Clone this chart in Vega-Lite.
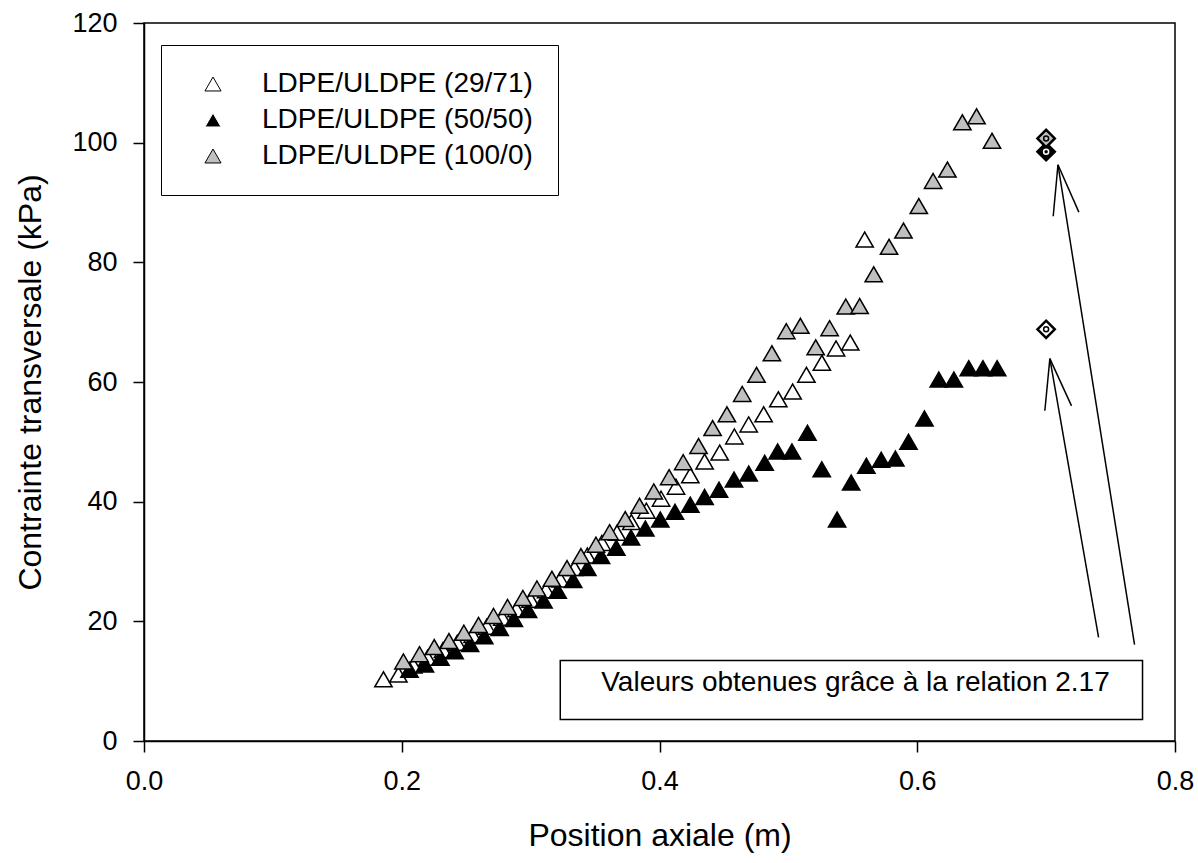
{
  "$schema": "https://vega.github.io/schema/vega-lite/v6.json",
  "width": 1031,
  "height": 718,
  "autosize": {"type": "none"},
  "padding": {"left": 144, "top": 23, "right": 23, "bottom": 122},
  "background": "white",
  "config": {
    "font": "Liberation Sans",
    "view": {"stroke": "black", "strokeWidth": 1.5},
    "axis": {
      "grid": false,
      "domainColor": "black",
      "domainWidth": 1.5,
      "tickColor": "black",
      "tickWidth": 1.5,
      "tickSize": 11,
      "labelFontSize": 27,
      "labelColor": "black",
      "labelFont": "Liberation Sans",
      "labelFlush": false,
      "titleFont": "Liberation Sans",
      "titleFontSize": 32,
      "titleFontWeight": "normal",
      "titleColor": "black"
    },
    "legend": {
      "labelFont": "Liberation Sans",
      "strokeColor": "black",
      "fillColor": "white",
      "padding": 25,
      "cornerRadius": 0
    }
  },
  "datasets": {
    "measures": [
      {"series": "LDPE/ULDPE (29/71)", "x": 0.1858, "y": 10.3},
      {"series": "LDPE/ULDPE (29/71)", "x": 0.1974, "y": 11.1},
      {"series": "LDPE/ULDPE (29/71)", "x": 0.209, "y": 12.6},
      {"series": "LDPE/ULDPE (29/71)", "x": 0.220, "y": 13.9},
      {"series": "LDPE/ULDPE (29/71)", "x": 0.232, "y": 15.2},
      {"series": "LDPE/ULDPE (29/71)", "x": 0.243, "y": 16.4},
      {"series": "LDPE/ULDPE (29/71)", "x": 0.255, "y": 17.7},
      {"series": "LDPE/ULDPE (29/71)", "x": 0.266, "y": 19.1},
      {"series": "LDPE/ULDPE (29/71)", "x": 0.278, "y": 20.6},
      {"series": "LDPE/ULDPE (29/71)", "x": 0.289, "y": 22.0},
      {"series": "LDPE/ULDPE (29/71)", "x": 0.300, "y": 23.6},
      {"series": "LDPE/ULDPE (29/71)", "x": 0.312, "y": 25.2},
      {"series": "LDPE/ULDPE (29/71)", "x": 0.323, "y": 27.0},
      {"series": "LDPE/ULDPE (29/71)", "x": 0.334, "y": 28.9},
      {"series": "LDPE/ULDPE (29/71)", "x": 0.344, "y": 31.0},
      {"series": "LDPE/ULDPE (29/71)", "x": 0.3553, "y": 33.1},
      {"series": "LDPE/ULDPE (29/71)", "x": 0.367, "y": 34.8},
      {"series": "LDPE/ULDPE (29/71)", "x": 0.3781, "y": 36.6},
      {"series": "LDPE/ULDPE (29/71)", "x": 0.3898, "y": 38.5},
      {"series": "LDPE/ULDPE (29/71)", "x": 0.4012, "y": 40.5},
      {"series": "LDPE/ULDPE (29/71)", "x": 0.4128, "y": 42.5},
      {"series": "LDPE/ULDPE (29/71)", "x": 0.4239, "y": 44.4},
      {"series": "LDPE/ULDPE (29/71)", "x": 0.435, "y": 46.7},
      {"series": "LDPE/ULDPE (29/71)", "x": 0.4467, "y": 48.2},
      {"series": "LDPE/ULDPE (29/71)", "x": 0.4581, "y": 50.9},
      {"series": "LDPE/ULDPE (29/71)", "x": 0.4692, "y": 52.9},
      {"series": "LDPE/ULDPE (29/71)", "x": 0.4808, "y": 54.6},
      {"series": "LDPE/ULDPE (29/71)", "x": 0.4922, "y": 57.1},
      {"series": "LDPE/ULDPE (29/71)", "x": 0.5033, "y": 58.4},
      {"series": "LDPE/ULDPE (29/71)", "x": 0.514, "y": 61.2},
      {"series": "LDPE/ULDPE (29/71)", "x": 0.526, "y": 63.2},
      {"series": "LDPE/ULDPE (29/71)", "x": 0.537, "y": 65.6},
      {"series": "LDPE/ULDPE (29/71)", "x": 0.548, "y": 66.6},
      {"series": "LDPE/ULDPE (29/71)", "x": 0.5592, "y": 83.8},
      {"series": "LDPE/ULDPE (50/50)", "x": 0.206, "y": 11.9},
      {"series": "LDPE/ULDPE (50/50)", "x": 0.218, "y": 12.8},
      {"series": "LDPE/ULDPE (50/50)", "x": 0.230, "y": 13.9},
      {"series": "LDPE/ULDPE (50/50)", "x": 0.241, "y": 15.0},
      {"series": "LDPE/ULDPE (50/50)", "x": 0.253, "y": 16.2},
      {"series": "LDPE/ULDPE (50/50)", "x": 0.264, "y": 17.5},
      {"series": "LDPE/ULDPE (50/50)", "x": 0.276, "y": 18.9},
      {"series": "LDPE/ULDPE (50/50)", "x": 0.287, "y": 20.4},
      {"series": "LDPE/ULDPE (50/50)", "x": 0.298, "y": 21.9},
      {"series": "LDPE/ULDPE (50/50)", "x": 0.310, "y": 23.5},
      {"series": "LDPE/ULDPE (50/50)", "x": 0.321, "y": 25.1},
      {"series": "LDPE/ULDPE (50/50)", "x": 0.333, "y": 26.9},
      {"series": "LDPE/ULDPE (50/50)", "x": 0.344, "y": 28.9},
      {"series": "LDPE/ULDPE (50/50)", "x": 0.3546, "y": 30.9},
      {"series": "LDPE/ULDPE (50/50)", "x": 0.3665, "y": 32.3},
      {"series": "LDPE/ULDPE (50/50)", "x": 0.3779, "y": 34.0},
      {"series": "LDPE/ULDPE (50/50)", "x": 0.389, "y": 35.5},
      {"series": "LDPE/ULDPE (50/50)", "x": 0.4006, "y": 37.0},
      {"series": "LDPE/ULDPE (50/50)", "x": 0.412, "y": 38.3},
      {"series": "LDPE/ULDPE (50/50)", "x": 0.4239, "y": 39.5},
      {"series": "LDPE/ULDPE (50/50)", "x": 0.435, "y": 40.8},
      {"series": "LDPE/ULDPE (50/50)", "x": 0.4462, "y": 42.0},
      {"series": "LDPE/ULDPE (50/50)", "x": 0.4578, "y": 43.7},
      {"series": "LDPE/ULDPE (50/50)", "x": 0.4692, "y": 44.7},
      {"series": "LDPE/ULDPE (50/50)", "x": 0.4816, "y": 46.5},
      {"series": "LDPE/ULDPE (50/50)", "x": 0.4917, "y": 48.4},
      {"series": "LDPE/ULDPE (50/50)", "x": 0.5028, "y": 48.4},
      {"series": "LDPE/ULDPE (50/50)", "x": 0.5148, "y": 51.5},
      {"series": "LDPE/ULDPE (50/50)", "x": 0.5259, "y": 45.4},
      {"series": "LDPE/ULDPE (50/50)", "x": 0.5378, "y": 37.0},
      {"series": "LDPE/ULDPE (50/50)", "x": 0.5487, "y": 43.2},
      {"series": "LDPE/ULDPE (50/50)", "x": 0.5605, "y": 46.0},
      {"series": "LDPE/ULDPE (50/50)", "x": 0.572, "y": 47.0},
      {"series": "LDPE/ULDPE (50/50)", "x": 0.583, "y": 47.2},
      {"series": "LDPE/ULDPE (50/50)", "x": 0.5932, "y": 50.0},
      {"series": "LDPE/ULDPE (50/50)", "x": 0.6056, "y": 53.9},
      {"series": "LDPE/ULDPE (50/50)", "x": 0.6167, "y": 60.4},
      {"series": "LDPE/ULDPE (50/50)", "x": 0.6284, "y": 60.4},
      {"series": "LDPE/ULDPE (50/50)", "x": 0.640, "y": 62.3},
      {"series": "LDPE/ULDPE (50/50)", "x": 0.651, "y": 62.3},
      {"series": "LDPE/ULDPE (50/50)", "x": 0.662, "y": 62.3},
      {"series": "LDPE/ULDPE (100/0)", "x": 0.2013, "y": 13.3},
      {"series": "LDPE/ULDPE (100/0)", "x": 0.2138, "y": 14.5},
      {"series": "LDPE/ULDPE (100/0)", "x": 0.2252, "y": 15.7},
      {"series": "LDPE/ULDPE (100/0)", "x": 0.2366, "y": 16.7},
      {"series": "LDPE/ULDPE (100/0)", "x": 0.2482, "y": 18.1},
      {"series": "LDPE/ULDPE (100/0)", "x": 0.2596, "y": 19.4},
      {"series": "LDPE/ULDPE (100/0)", "x": 0.2712, "y": 20.9},
      {"series": "LDPE/ULDPE (100/0)", "x": 0.2821, "y": 22.4},
      {"series": "LDPE/ULDPE (100/0)", "x": 0.294, "y": 23.9},
      {"series": "LDPE/ULDPE (100/0)", "x": 0.3049, "y": 25.5},
      {"series": "LDPE/ULDPE (100/0)", "x": 0.3165, "y": 27.1},
      {"series": "LDPE/ULDPE (100/0)", "x": 0.3282, "y": 28.9},
      {"series": "LDPE/ULDPE (100/0)", "x": 0.339, "y": 30.9},
      {"series": "LDPE/ULDPE (100/0)", "x": 0.3507, "y": 32.8},
      {"series": "LDPE/ULDPE (100/0)", "x": 0.3613, "y": 34.9},
      {"series": "LDPE/ULDPE (100/0)", "x": 0.3734, "y": 37.1},
      {"series": "LDPE/ULDPE (100/0)", "x": 0.3845, "y": 39.3},
      {"series": "LDPE/ULDPE (100/0)", "x": 0.3956, "y": 41.7},
      {"series": "LDPE/ULDPE (100/0)", "x": 0.4075, "y": 44.1},
      {"series": "LDPE/ULDPE (100/0)", "x": 0.4184, "y": 46.6},
      {"series": "LDPE/ULDPE (100/0)", "x": 0.4303, "y": 49.3},
      {"series": "LDPE/ULDPE (100/0)", "x": 0.4412, "y": 52.3},
      {"series": "LDPE/ULDPE (100/0)", "x": 0.4523, "y": 54.6},
      {"series": "LDPE/ULDPE (100/0)", "x": 0.4642, "y": 58.0},
      {"series": "LDPE/ULDPE (100/0)", "x": 0.4753, "y": 61.2},
      {"series": "LDPE/ULDPE (100/0)", "x": 0.4872, "y": 64.8},
      {"series": "LDPE/ULDPE (100/0)", "x": 0.4984, "y": 68.5},
      {"series": "LDPE/ULDPE (100/0)", "x": 0.5093, "y": 69.4},
      {"series": "LDPE/ULDPE (100/0)", "x": 0.5212, "y": 65.8},
      {"series": "LDPE/ULDPE (100/0)", "x": 0.532, "y": 69.0},
      {"series": "LDPE/ULDPE (100/0)", "x": 0.5445, "y": 72.6},
      {"series": "LDPE/ULDPE (100/0)", "x": 0.5553, "y": 72.7},
      {"series": "LDPE/ULDPE (100/0)", "x": 0.5662, "y": 78.0},
      {"series": "LDPE/ULDPE (100/0)", "x": 0.5781, "y": 82.6},
      {"series": "LDPE/ULDPE (100/0)", "x": 0.5893, "y": 85.3},
      {"series": "LDPE/ULDPE (100/0)", "x": 0.6012, "y": 89.4},
      {"series": "LDPE/ULDPE (100/0)", "x": 0.6123, "y": 93.6},
      {"series": "LDPE/ULDPE (100/0)", "x": 0.6234, "y": 95.5},
      {"series": "LDPE/ULDPE (100/0)", "x": 0.635, "y": 103.4},
      {"series": "LDPE/ULDPE (100/0)", "x": 0.646, "y": 104.4},
      {"series": "LDPE/ULDPE (100/0)", "x": 0.658, "y": 100.3}
    ],
    "computed": [
      {"series": "LDPE/ULDPE (29/71)", "x": 0.7, "y": 68.8},
      {"series": "LDPE/ULDPE (50/50)", "x": 0.7, "y": 98.5},
      {"series": "LDPE/ULDPE (100/0)", "x": 0.7, "y": 100.7}
    ],
    "arrows": [
      {"x": 0.7092, "y": 96.3, "x2": 0.7686, "y2": 16.1},
      {"x": 0.7092, "y": 96.3, "x2": 0.7055, "y2": 87.7},
      {"x": 0.7092, "y": 96.3, "x2": 0.7254, "y2": 88.4},
      {"x": 0.7029, "y": 63.9, "x2": 0.7407, "y2": 17.3},
      {"x": 0.7029, "y": 63.9, "x2": 0.699, "y2": 55.2},
      {"x": 0.7029, "y": 63.9, "x2": 0.7197, "y2": 56.0}
    ],
    "notebox": [
      {"x": 0.323, "x2": 0.7748, "y": 3.6, "y2": 13.45}
    ],
    "note": [
      {"x": 0.3548, "y": 8.3, "label": "Valeurs obtenues grâce à la relation 2.17"}
    ]
  },
  "encoding": {
    "x": {
      "field": "x",
      "type": "quantitative",
      "title": "Position axiale (m)",
      "scale": {"domain": [0, 0.8], "nice": false, "zero": false},
      "axis": {"values": [0, 0.2, 0.4, 0.6, 0.8], "format": ".1f", "labelPadding": 16, "titlePadding": 26}
    },
    "y": {
      "field": "y",
      "type": "quantitative",
      "title": "Contrainte transversale (kPa)",
      "scale": {"domain": [0, 120], "nice": false},
      "axis": {"values": [0, 20, 40, 60, 80, 100, 120], "labelPadding": 16, "titlePadding": 24}
    }
  },
  "layer": [
    {
      "data": {"name": "notebox"},
      "mark": {"type": "rect", "fill": "white", "stroke": "black", "strokeWidth": 1.5},
      "encoding": {
        "x2": {"field": "x2"},
        "y2": {"field": "y2"}
      }
    },
    {
      "data": {"name": "note"},
      "mark": {"type": "text", "align": "left", "baseline": "alphabetic", "fontSize": 28, "font": "Liberation Sans", "color": "black"},
      "encoding": {
        "text": {"field": "label", "type": "nominal"}
      }
    },
    {
      "data": {"name": "arrows"},
      "mark": {"type": "rule", "color": "black", "strokeWidth": 1.5},
      "encoding": {
        "x2": {"field": "x2"},
        "y2": {"field": "y2"}
      }
    },
    {
      "data": {"name": "measures"},
      "mark": {"type": "point", "shape": "triangle-up", "filled": true, "stroke": "black", "strokeWidth": 1.5, "size": 300, "opacity": 1},
      "encoding": {
        "fill": {
          "field": "series",
          "type": "nominal",
          "sort": null,
          "scale": {
            "domain": ["LDPE/ULDPE (29/71)", "LDPE/ULDPE (50/50)", "LDPE/ULDPE (100/0)"],
            "range": ["white", "black", "#c0c0c0"]
          },
          "legend": {
            "title": null,
            "orient": "none",
            "legendX": 17,
            "legendY": 22,
            "direction": "vertical",
            "symbolType": "triangle-up",
            "symbolSize": 260,
            "symbolStrokeColor": "black",
            "symbolStrokeWidth": 1,
            "symbolOpacity": 1,
            "symbolOffset": 13,
            "labelOffset": 35,
            "labelFontSize": 28,
            "labelColor": "black",
            "labelLimit": 500,
            "rowPadding": 8
          }
        }
      }
    },
    {
      "data": {"name": "computed"},
      "mark": {"type": "point", "shape": "diamond", "filled": true, "stroke": "black", "strokeWidth": 2.5, "size": 300, "opacity": 1},
      "encoding": {
        "fill": {"field": "series", "type": "nominal", "legend": null}
      }
    },
    {
      "data": {"name": "computed"},
      "mark": {"type": "point", "shape": "circle", "filled": false, "strokeWidth": 1.5, "size": 25, "opacity": 1},
      "encoding": {
        "stroke": {
          "field": "series",
          "type": "nominal",
          "scale": {
            "domain": ["LDPE/ULDPE (29/71)", "LDPE/ULDPE (50/50)", "LDPE/ULDPE (100/0)"],
            "range": ["black", "white", "black"]
          },
          "legend": null
        }
      }
    }
  ]
}
